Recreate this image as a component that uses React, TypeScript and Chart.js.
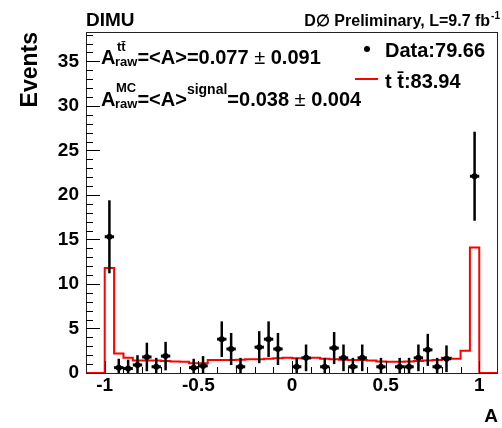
import React, { useEffect, useRef } from 'react';
import { Chart, registerables } from 'chart.js';

Chart.register(...registerables);

// ---- axis ranges / ticks ----
const X_MIN = -1.1;
const X_MAX = 1.1;
const Y_MIN = 0;
const Y_MAX = 38.3;
const xTickValues = [-1, -0.5, 0, 0.5, 1];
const xTickLabels = ['-1', '-0.5', '0', '0.5', '1'];
const yTickValues = [0, 5, 10, 15, 20, 25, 30, 35];
const yTickLabels = ['0', '5', '10', '15', '20', '25', '30', '35'];

// ---- MC ttbar histogram (40 bins of width 0.05 from -1 to 1) ----
const mcBinLow = -1.0;
const mcBinWidth = 0.05;
const mcValues = [
  11.8, 2.2, 1.7, 1.4, 1.4, 1.4, 1.35, 1.3, 1.25, 1.1,
  1.1, 1.45, 1.45, 1.45, 1.5, 1.55, 1.55, 1.6, 1.65, 1.7,
  1.65, 1.65, 1.7, 1.6, 1.55, 1.5, 1.45, 1.45, 1.4, 1.3,
  1.27, 1.27, 1.3, 1.35, 1.4, 1.45, 1.7, 1.6, 2.5, 14.1,
];

// ---- Data points ----
const dataX = [
  -0.975, -0.925, -0.875, -0.825, -0.775, -0.725, -0.675, -0.525, -0.475, -0.375,
  -0.325, -0.275, -0.175, -0.125, -0.075, 0.025, 0.075, 0.175, 0.225, 0.275,
  0.325, 0.375, 0.475, 0.575, 0.625, 0.675, 0.725, 0.775, 0.825, 0.975,
];
const dataY = [
  15.3, 0.6, 0.5, 0.9, 1.8, 0.7, 1.9, 0.6, 0.8, 3.8,
  2.7, 0.7, 2.9, 3.8, 2.7, 0.7, 1.7, 0.7, 2.8, 1.7,
  0.7, 1.7, 0.7, 0.7, 0.7, 1.7, 2.6, 0.7, 1.6, 22.1,
];
const dataErr = [
  4.1, 1.0, 1.0, 1.1, 1.6, 1.0, 1.6, 1.0, 1.1, 2.0,
  1.8, 1.0, 1.8, 2.0, 1.8, 1.0, 1.5, 1.0, 1.8, 1.5,
  1.0, 1.5, 1.0, 1.0, 1.0, 1.5, 1.8, 1.0, 1.5, 5.0,
];

const FONT = '"Liberation Sans", Arial, Helvetica, sans-serif';

function buildSteps() {
  const pts: { x: number; y: number }[] = [{ x: X_MIN, y: 0 }];
  mcValues.forEach((v, i) => pts.push({ x: mcBinLow + i * mcBinWidth, y: v }));
  pts.push({ x: mcBinLow + mcValues.length * mcBinWidth, y: 0 });
  pts.push({ x: X_MAX, y: 0 });
  return pts;
}

type Seg = { t: string; size: number; dy: number; reg?: boolean };

function drawSegs(ctx: CanvasRenderingContext2D, x: number, y: number, segs: Seg[]) {
  let cx = x;
  for (const s of segs) {
    ctx.font = `${s.reg ? '' : 'bold '}${s.size}px ${FONT}`;
    ctx.fillText(s.t, cx, y + s.dy);
    cx += ctx.measureText(s.t).width;
  }
}

const rootPlugin = {
  id: 'rootStyle',
  afterDatasetsDraw(chart: any) {
    const { ctx, chartArea: a, scales } = chart;
    const xs = scales.x;
    const ys = scales.y;
    ctx.save();
    ctx.beginPath();
    ctx.rect(a.left, a.top, a.right - a.left, a.bottom - a.top);
    ctx.clip();
    ctx.strokeStyle = '#000';
    ctx.lineCap = 'butt';
    dataX.forEach((cx, i) => {
      const px = xs.getPixelForValue(cx);
      const py = ys.getPixelForValue(dataY[i]);
      const top = ys.getPixelForValue(dataY[i] + dataErr[i]);
      const bot = ys.getPixelForValue(dataY[i] - dataErr[i]);
      ctx.lineWidth = 2.5;
      ctx.beginPath();
      ctx.moveTo(px, top);
      ctx.lineTo(px, bot);
      ctx.stroke();
      const l = xs.getPixelForValue(cx - mcBinWidth / 2);
      const r = xs.getPixelForValue(cx + mcBinWidth / 2);
      ctx.lineWidth = 3;
      ctx.beginPath();
      ctx.moveTo(l, py);
      ctx.lineTo(r, py);
      ctx.stroke();
    });
    ctx.restore();
  },
  afterDraw(chart: any) {
    const { ctx, chartArea: a, scales } = chart;
    const xs = scales.x;
    const ys = scales.y;
    ctx.save();
    // frame
    ctx.strokeStyle = '#222';
    ctx.lineWidth = 1;
    ctx.strokeRect(Math.round(a.left) + 0.5, Math.round(a.top) + 0.5, Math.round(a.right - a.left) - 1, Math.round(a.bottom - a.top));
    // y ticks (inside, from left axis)
    ctx.strokeStyle = '#000';
    for (let v = 1; v < Y_MAX; v += 1) {
      const py = Math.round(ys.getPixelForValue(v)) + 0.5;
      const len = v % 5 === 0 ? 14 : 7;
      ctx.beginPath();
      ctx.moveTo(a.left, py);
      ctx.lineTo(a.left + len, py);
      ctx.stroke();
    }
    // x ticks (inside, from bottom axis)
    for (let k = -10; k <= 10; k++) {
      const v = k / 10;
      const px = Math.round(xs.getPixelForValue(v)) + 0.5;
      const len = k % 5 === 0 ? 12 : 6;
      ctx.beginPath();
      ctx.moveTo(px, a.bottom);
      ctx.lineTo(px, a.bottom - len);
      ctx.stroke();
    }
    // header texts
    ctx.fillStyle = '#000';
    ctx.textBaseline = 'alphabetic';
    ctx.textAlign = 'left';
    ctx.font = `bold 19px ${FONT}`;
    ctx.fillText('DIMU', 86, 26);
    // right header
    ctx.font = `bold 10px ${FONT}`;
    const supW = ctx.measureText('-1').width;
    ctx.font = `bold 16px ${FONT}`;
    const mainTxt = 'D\u2205 Preliminary, L=9.7 fb';
    const mainW = ctx.measureText(mainTxt).width;
    const rx = 499 - supW - mainW;
    ctx.fillText(mainTxt, rx, 26);
    ctx.font = `bold 10px ${FONT}`;
    ctx.fillText('-1', rx + mainW + 1, 19);

    // annotations
    drawSegs(ctx, 101, 64, [{ t: 'A', size: 20, dy: 0 }]);
    ctx.font = `bold 13px ${FONT}`;
    ctx.fillText('tt\u0304', 117, 51);
    drawSegs(ctx, 115, 64, [
      { t: 'raw', size: 13, dy: 2 },
      { t: '=<A>=0.077 ', size: 20, dy: 0 },
      { t: '\u00b1', size: 20, dy: 0, reg: true },
      { t: ' 0.091', size: 20, dy: 0 },
    ]);

    drawSegs(ctx, 101, 106, [{ t: 'A', size: 20, dy: 0 }]);
    ctx.font = `bold 13px ${FONT}`;
    ctx.fillText('MC', 116, 92);
    drawSegs(ctx, 115, 106, [
      { t: 'raw', size: 13, dy: 2 },
      { t: '=<A>', size: 20, dy: 0 },
      { t: 'signal', size: 14, dy: -12 },
      { t: '=0.038 ', size: 20, dy: 0 },
      { t: '\u00b1', size: 20, dy: 0, reg: true },
      { t: ' 0.004', size: 20, dy: 0 },
    ]);

    // legend
    ctx.beginPath();
    ctx.arc(367, 49, 3, 0, Math.PI * 2);
    ctx.fill();
    ctx.font = `bold 20px ${FONT}`;
    ctx.fillText('Data:79.66', 385, 57);
    ctx.strokeStyle = '#ff0000';
    ctx.lineWidth = 2;
    ctx.beginPath();
    ctx.moveTo(355, 79);
    ctx.lineTo(378, 79);
    ctx.stroke();
    ctx.fillStyle = '#000';
    ctx.fillText('t t\u0304:83.94', 385, 88);
    ctx.restore();
  },
};

export default function App() {
  const canvasRef = useRef<HTMLCanvasElement | null>(null);

  useEffect(() => {
    document.body.style.margin = '0';
    const canvas = canvasRef.current;
    if (!canvas) return;
    const chart = new Chart(canvas, {
      type: 'scatter',
      data: {
        datasets: [
          {
            type: 'line',
            label: 't t\u0304',
            data: buildSteps(),
            stepped: 'before',
            borderColor: '#ff0000',
            borderWidth: 2,
            borderJoinStyle: 'miter',
            pointRadius: 0,
            fill: false,
            clip: false,
            order: 2,
          } as any,
          {
            type: 'scatter',
            label: 'Data',
            data: dataX.map((x, i) => ({ x, y: dataY[i] })),
            pointRadius: 3,
            pointBackgroundColor: '#000',
            pointBorderColor: '#000',
            pointBorderWidth: 0,
            order: 1,
          } as any,
        ],
      },
      options: {
        animation: false,
        responsive: false,
        devicePixelRatio: 1,
        layout: { padding: { top: 32, right: 4, left: 0, bottom: 0 } },
        plugins: {
          legend: { display: false },
          tooltip: { enabled: false },
        },
        scales: {
          x: {
            type: 'linear',
            min: X_MIN,
            max: X_MAX,
            grid: { display: false, drawTicks: false },
            border: { display: false },
            afterBuildTicks: (s: any) => {
              s.ticks = xTickValues.map((v) => ({ value: v }));
            },
            afterFit: (s: any) => {
              s.height = 55;
            },
            ticks: {
              autoSkip: false,
              maxRotation: 0,
              padding: 1,
              color: '#000',
              font: { family: FONT, size: 19, weight: 'bold' },
              callback: (v: any) => {
                const i = xTickValues.indexOf(Number(v));
                return i >= 0 ? xTickLabels[i] : '';
              },
            },
            title: {
              display: true,
              text: 'A',
              align: 'end',
              color: '#000',
              font: { family: FONT, size: 19, weight: 'bold' },
              padding: { top: 0, bottom: 0 },
            },
          },
          y: {
            type: 'linear',
            min: Y_MIN,
            max: Y_MAX,
            grid: { display: false, drawTicks: false },
            border: { display: false },
            afterBuildTicks: (s: any) => {
              s.ticks = yTickValues.map((v) => ({ value: v }));
            },
            afterFit: (s: any) => {
              s.width = 86;
            },
            ticks: {
              autoSkip: false,
              padding: 7,
              color: '#000',
              font: { family: FONT, size: 19, weight: 'bold' },
              callback: (v: any) => {
                const i = yTickValues.indexOf(Number(v));
                return i >= 0 ? yTickLabels[i] : '';
              },
            },
            title: {
              display: true,
              text: 'Events',
              align: 'end',
              color: '#000',
              font: { family: FONT, size: 23, weight: 'bold' },
              padding: { top: 17, bottom: 0 },
            },
          },
        },
      },
      plugins: [rootPlugin],
    });
    return () => chart.destroy();
  }, []);

  return (
    <div style={{ width: 502, height: 428, background: '#fff' }}>
      <canvas ref={canvasRef} width={502} height={428} style={{ display: 'block' }} />
    </div>
  );
}
